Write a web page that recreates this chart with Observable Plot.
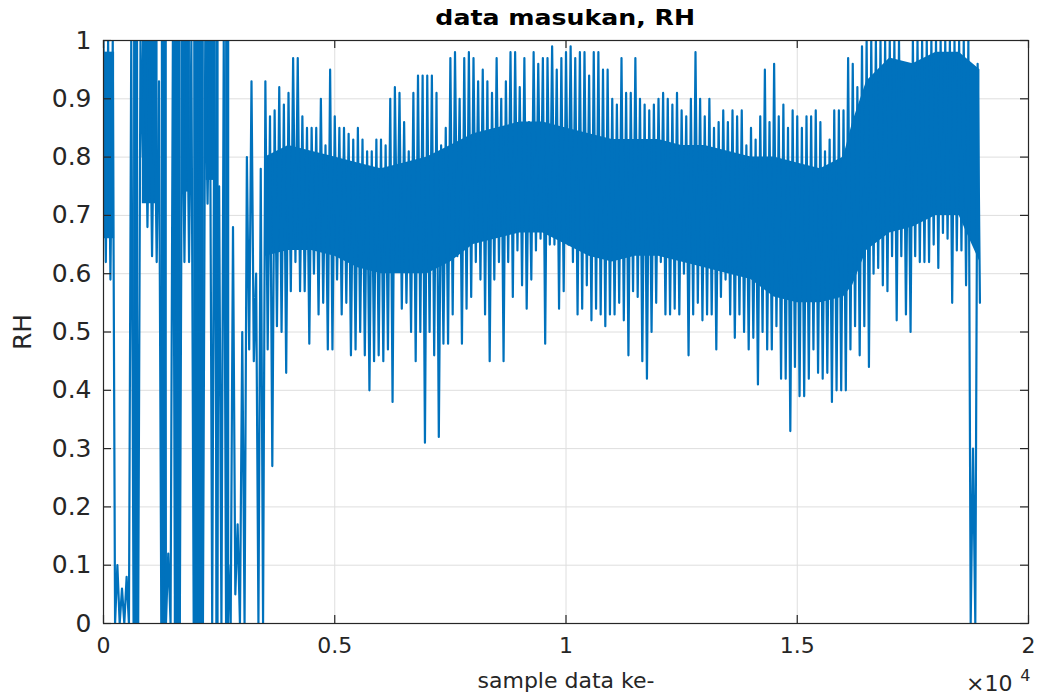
<!DOCTYPE html>
<html>
<head>
<meta charset="utf-8">
<script src="https://cdn.jsdelivr.net/npm/d3@7"></script>
<script src="https://cdn.jsdelivr.net/npm/@observablehq/plot@0.6"></script>
<style>
  html, body { margin: 0; padding: 0; background: #fff; }
  #wrap { position: relative; width: 1040px; height: 697px; overflow: hidden; }
  #title { position: absolute; left: 103px; top: 0; width: 925px; height: 36px; line-height: 36px;
           text-align: center; font-family: "DejaVu Sans", sans-serif; font-weight: bold; font-size: 21px; color: #000; }
  #title span { display: inline-block; transform: scaleX(1.2); }
  #chart { position: absolute; left: 0; top: 36px; }
</style>
</head>
<body>
<div id="wrap">
  <div id="title"><span id="titleText"></span></div>
  <div id="chart"></div>
</div>
<script>
// ---- data ----
const titleText = "data masukan, RH";
const xLabel = "sample data ke-";
const yLabel = "RH";
const xTicks = [0, 5000, 10000, 15000, 20000];
const yTicks = [0, 0.1, 0.2, 0.3, 0.4, 0.5, 0.6, 0.7, 0.8, 0.9, 1];
const binSize = 100;          // samples per envelope bin
const firstValue = 0.77;      // first sample
// per-bin maximum (peak) and minimum (trough) of RH, bins of 100 samples
const rhHigh = [
  1.0, 1.0, 1.0, 0.10, 0.06, 0.08, 1.0, 1.0, 1.0, 1.0,
  0.97, 0.95, 0.93, 1.0, 0.12, 1.0, 1.0, 1.0, 1.0, 1.0,
  1.0, 1.0, 1.0, 1.0, 1.0, 0.75, 1.0, 0.10, 0.68, 0.17,
  0.50, 0.80, 0.93, 0.60, 0.78, 0.93, 0.87, 0.88, 0.92, 0.89,
  0.91, 0.97, 0.97, 0.87, 0.85, 0.85, 0.85, 0.90, 0.82, 0.95,
  0.87, 0.85, 0.85, 0.84, 0.83, 0.85, 0.83, 0.81, 0.81, 0.83,
  0.83, 0.82, 0.90, 0.92, 0.91, 0.86, 0.81, 0.91, 0.94, 0.94,
  0.94, 0.94, 0.91, 0.82, 0.85, 0.97, 0.98, 0.90, 0.97, 0.98,
  0.97, 0.93, 0.95, 0.93, 0.91, 0.97, 0.90, 0.93, 0.98, 0.98,
  0.92, 0.97, 0.86, 0.98, 0.96, 0.97, 0.97, 0.99, 0.95, 0.97,
  0.98, 0.99, 0.97, 0.98, 0.98, 0.94, 0.98, 0.98, 0.95, 0.95,
  0.90, 0.89, 0.97, 0.91, 0.91, 0.97, 0.90, 0.89, 0.88, 0.89,
  0.90, 0.91, 0.90, 0.89, 0.91, 0.88, 0.87, 0.90, 0.98, 0.90,
  0.87, 0.90, 0.85, 0.86, 0.88, 0.86, 0.88, 0.87, 0.88, 0.82,
  0.85, 0.83, 0.87, 0.95, 0.86, 0.96, 0.87, 0.89, 0.85, 0.88,
  0.87, 0.85, 0.87, 0.87, 0.88, 0.86, 0.81, 0.83, 0.88, 0.88,
  0.88, 0.97, 0.96, 0.92, 0.99, 1.0, 1.0, 1.0, 1.0, 1.0,
  1.0, 1.0, 1.0, 0.95, 0.88, 1.0, 1.0, 1.0, 1.0, 1.0,
  1.0, 1.0, 1.0, 1.0, 1.0, 1.0, 1.0, 1.0, 0.30, 0.96
];
const rhLow = [
  0.62, 0.59, 0.0, 0.0, 0.0, 0.0, 0.0, 0.0, 0.80, 0.68,
  0.63, 0.62, 0.0, 0.0, 0.0, 0.0, 0.0, 0.62, 0.62, 0.0,
  0.0, 0.0, 0.72, 0.0, 0.0, 0.0, 0.0, 0.0, 0.05, 0.0,
  0.0, 0.47, 0.45, 0.0, 0.0, 0.47, 0.27, 0.51, 0.50, 0.43,
  0.57, 0.62, 0.57, 0.57, 0.48, 0.60, 0.53, 0.55, 0.47, 0.47,
  0.59, 0.53, 0.55, 0.46, 0.47, 0.50, 0.46, 0.40, 0.45, 0.46,
  0.45, 0.47, 0.38, 0.62, 0.54, 0.55, 0.50, 0.45, 0.50, 0.31,
  0.50, 0.46, 0.32, 0.48, 0.48, 0.53, 0.63, 0.48, 0.54, 0.56,
  0.62, 0.59, 0.53, 0.45, 0.59, 0.62, 0.45, 0.62, 0.56, 0.64,
  0.58, 0.54, 0.59, 0.64, 0.66, 0.48, 0.65, 0.65, 0.54, 0.57,
  0.65, 0.62, 0.53, 0.54, 0.58, 0.52, 0.54, 0.53, 0.51, 0.53,
  0.53, 0.55, 0.52, 0.46, 0.57, 0.56, 0.45, 0.42, 0.50, 0.55,
  0.62, 0.53, 0.53, 0.54, 0.53, 0.60, 0.46, 0.53, 0.55, 0.52,
  0.53, 0.53, 0.47, 0.56, 0.59, 0.53, 0.49, 0.53, 0.50, 0.47,
  0.49, 0.41, 0.50, 0.47, 0.47, 0.51, 0.42, 0.42, 0.33, 0.44,
  0.39, 0.39, 0.42, 0.47, 0.43, 0.42, 0.43, 0.38, 0.40, 0.40,
  0.40, 0.47, 0.51, 0.46, 0.51, 0.44, 0.60, 0.61, 0.58, 0.57,
  0.63, 0.52, 0.63, 0.53, 0.50, 0.63, 0.62, 0.62, 0.62, 0.65,
  0.61, 0.67, 0.66, 0.55, 0.64, 0.64, 0.58, 0.0, 0.0, 0.55
];
// the solid (densely overplotted) core band of the signal
const coreSample = [3500, 4000, 4500, 5000, 5500, 6000, 6500, 7000, 7500, 8000,
  8500, 9000, 9500, 10000, 10500, 11000, 11500, 12000, 12500, 13000,
  13500, 14000, 14500, 15000, 15500, 16000, 16200, 16500, 17000, 17500,
  18000, 18500, 18950];
const coreLow = [0.63, 0.64, 0.64, 0.63, 0.61, 0.60, 0.60, 0.60, 0.62, 0.65,
  0.66, 0.67, 0.67, 0.65, 0.63, 0.62, 0.63, 0.63, 0.62, 0.61,
  0.60, 0.59, 0.56, 0.55, 0.55, 0.56, 0.58, 0.64, 0.67, 0.68, 0.70,
  0.70, 0.62];
const coreHigh = [0.80, 0.82, 0.81, 0.80, 0.79, 0.78, 0.79, 0.80, 0.82, 0.84,
  0.85, 0.86, 0.86, 0.85, 0.84, 0.83, 0.83, 0.83, 0.82, 0.82,
  0.81, 0.80, 0.80, 0.79, 0.78, 0.80, 0.86, 0.93, 0.97, 0.96, 0.98,
  0.98, 0.95];
// densely overplotted stretches in the erratic first part (sample range and RH range)
const denseFrom = [0, 650, 840, 1250, 1530, 1730, 1950, 2220, 2430, 2640];
const denseTo   = [240, 760, 1180, 1380, 1680, 1880, 2180, 2400, 2500, 2730];
const denseLow  = [0.66, 0.0, 0.72, 0.0, 0.0, 0.74, 0.0, 0.76, 0.0, 0.0];
const denseHigh = [0.98, 1.0, 1.0, 1.0, 1.0, 1.0, 1.0, 1.0, 1.0, 1.0];

// ---- build tables: each bin runs from its peak to its trough ----
const series = [{sample: 0, rh: firstValue}];
rhHigh.forEach((h, k) => {
  series.push({sample: k * binSize, rh: h});
  series.push({sample: k * binSize + binSize / 2, rh: rhLow[k]});
});
const core = coreSample.map((s, i) => ({sample: s, lo: coreLow[i], hi: coreHigh[i]}));
const dense = denseFrom.map((s, i) => ({from: s, to: denseTo[i], lo: denseLow[i], hi: denseHigh[i]}));

const lineColor = "#0072BD";
const axisColor = "#262626";
const gridColor = "#dedede";
const fmtY = d => (d === 0 ? "0" : d === 1 ? "1" : d.toFixed(1));

document.getElementById("titleText").textContent = titleText;

const plot = Plot.plot({
  width: 1040,
  height: 661,
  marginTop: 4,
  marginRight: 12,
  marginBottom: 74,
  marginLeft: 103,
  style: {fontFamily: "'DejaVu Sans', sans-serif", fontSize: "22px", color: axisColor, background: "#fff", overflow: "visible"},
  x: {domain: [0, 20000]},
  y: {domain: [0, 1]},
  marks: [
    Plot.gridX(xTicks, {stroke: gridColor, strokeOpacity: 1}),
    Plot.gridY(yTicks, {stroke: gridColor, strokeOpacity: 1}),
    Plot.rect(dense, {x1: "from", x2: "to", y1: "lo", y2: "hi", fill: lineColor}),
    Plot.areaY(core, {x: "sample", y1: "lo", y2: "hi", fill: lineColor, curve: "linear"}),
    Plot.lineY(series, {x: "sample", y: "rh", stroke: lineColor, strokeWidth: 2.2, clip: true}),
    Plot.frame({stroke: axisColor, strokeWidth: 1.2}),
    Plot.tickY(yTicks, {y: d => d, insetRight: 917, stroke: axisColor, strokeWidth: 1.2}),
    Plot.tickY(yTicks, {y: d => d, insetLeft: 917, stroke: axisColor, strokeWidth: 1.2}),
    Plot.tickX(xTicks, {x: d => d, insetTop: 575, stroke: axisColor, strokeWidth: 1.2}),
    Plot.tickX(xTicks, {x: d => d, insetBottom: 575, stroke: axisColor, strokeWidth: 1.2}),
    Plot.axisY(yTicks, {anchor: "left", tickSize: 0, tickPadding: 12, tickFormat: fmtY,
      label: yLabel, labelAnchor: "center", labelArrow: "none", labelOffset: 90, fontSize: 25}),
    Plot.axisX(xTicks, {anchor: "bottom", tickSize: 0, tickPadding: 14, tickFormat: d => String(d / 1e4),
      label: xLabel, labelAnchor: "center", labelArrow: "none", labelOffset: 64, fontSize: 22}),
    Plot.text(["×10"], {frameAnchor: "bottom-right", text: d => d, textAnchor: "end", lineAnchor: "middle",
      dx: -16, dy: 60, fontSize: 22, fill: axisColor}),
    Plot.text(["4"], {frameAnchor: "bottom-right", text: d => d, textAnchor: "end", lineAnchor: "middle",
      dx: 2, dy: 52, fontSize: 16, fill: axisColor})
  ]
});
document.getElementById("chart").appendChild(plot);
</script>
</body>
</html>
